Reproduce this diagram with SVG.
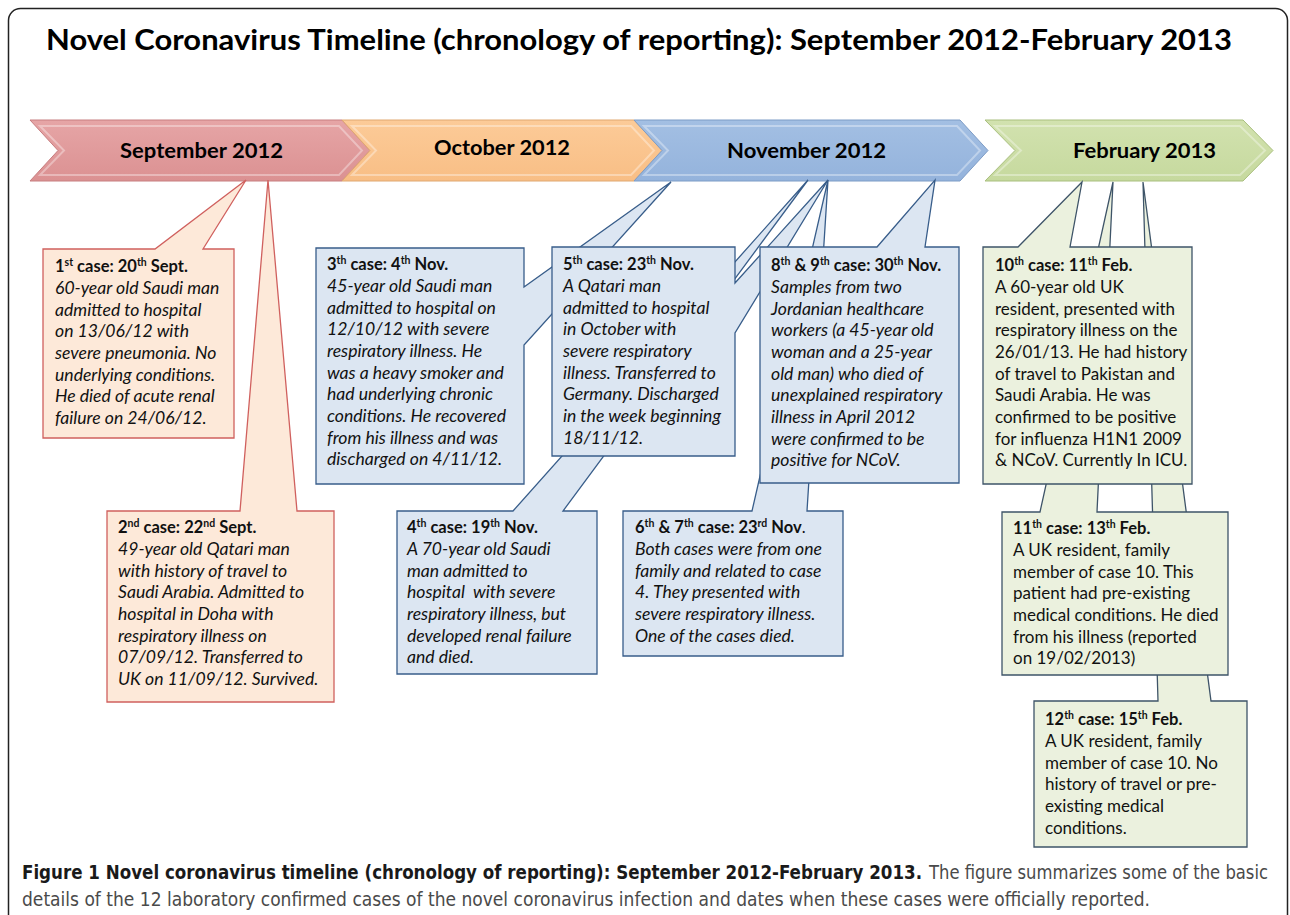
<svg xmlns="http://www.w3.org/2000/svg" width="1290" height="915" viewBox="0 0 1290 915">
<defs>
<linearGradient id="gS" x1="0" y1="0" x2="0" y2="1"><stop offset="0" stop-color="#E6A5A6"/><stop offset="1" stop-color="#DB9192"/></linearGradient>
<linearGradient id="gO" x1="0" y1="0" x2="0" y2="1"><stop offset="0" stop-color="#FCCB98"/><stop offset="1" stop-color="#F8BE85"/></linearGradient>
<linearGradient id="gN" x1="0" y1="0" x2="0" y2="1"><stop offset="0" stop-color="#A3BFE3"/><stop offset="1" stop-color="#94B3DC"/></linearGradient>
<linearGradient id="gF" x1="0" y1="0" x2="0" y2="1"><stop offset="0" stop-color="#D2E2AF"/><stop offset="1" stop-color="#C6D99E"/></linearGradient>
<style>
.frame{fill:none;stroke:#222;stroke-width:1.5}
.chev{stroke-width:1}
.bev{fill:none;stroke:#FFFFFF;stroke-opacity:0.35;stroke-width:2}
.ml{font-family:Lato,"Open Sans",sans-serif;font-weight:bold;font-size:21px;fill:#000}
.box-r{fill:#FDE9D9;stroke:#D0605E;stroke-width:1.3}
.box-b{fill:#DCE6F2;stroke:#385D8A;stroke-width:1.3}
.box-g{fill:#EBF1DE;stroke:#3E5468;stroke-width:1.3}
.t{font-family:Lato,"Open Sans",sans-serif;font-size:17px;fill:#111}
.b{font-weight:bold;font-size:16.5px}
.i{font-style:italic;font-size:17.6px}
.sup{font-size:10.5px}
.title{font-family:Lato,"Open Sans",sans-serif;font-weight:bold;font-size:29px;fill:#000}
.cap{font-family:"Liberation Sans Narrow","DejaVu Sans Condensed","Liberation Sans",sans-serif;font-size:19px}
</style>
</defs>
<rect class="frame" x="8.5" y="8.5" width="1279" height="980" rx="12"/>
<text class="title" x="46" y="50" textLength="1186" lengthAdjust="spacingAndGlyphs">Novel Coronavirus Timeline (chronology of reporting): September 2012-February 2013</text>

<g id="timeline">
<g id="month-sep">
<path class="chev" d="M30,120 L342,120 L370,150.5 L342,181 L30,181 L58,150.5 Z" fill="url(#gS)" stroke="#C77E80"/>
<path class="bev" d="M40,126 L339,126 L362,150.5 L339,175 L40,175 L64,150.5 Z"/>
<text class="ml" x="120" y="158" textLength="163" lengthAdjust="spacingAndGlyphs">September 2012</text>
</g>
<g id="month-oct">
<path class="chev" d="M342,120 L634,120 L662,150.5 L634,181 L342,181 L370,150.5 Z" fill="url(#gO)" stroke="#E0A870"/>
<path class="bev" d="M352,126 L631,126 L654,150.5 L631,175 L352,175 L376,150.5 Z"/>
<text class="ml" x="434" y="155" textLength="136" lengthAdjust="spacingAndGlyphs">October 2012</text>
</g>
<g id="month-nov">
<path class="chev" d="M634,120 L960,120 L988,150.5 L960,181 L634,181 L662,150.5 Z" fill="url(#gN)" stroke="#7D9CC6"/>
<path class="bev" d="M644,126 L957,126 L980,150.5 L957,175 L644,175 L668,150.5 Z"/>
<text class="ml" x="727" y="158" textLength="159" lengthAdjust="spacingAndGlyphs">November 2012</text>
</g>
<g id="month-feb">
<path class="chev" d="M985,120 L1243,120 L1273,150.5 L1243,181 L985,181 L1015,150.5 Z" fill="url(#gF)" stroke="#A9BF7E"/>
<path class="bev" d="M995,126 L1240,126 L1265,150.5 L1240,175 L995,175 L1021,150.5 Z"/>
<text class="ml" x="1073" y="158" textLength="143" lengthAdjust="spacingAndGlyphs">February 2013</text>
</g>
</g>

<g id="connectors"></g>

<g id="case1">
<path class="box-r" d="M43,249 L155,249 L246,180 L203,249 L234,249 L234,438 L43,438 Z"/>
<text class="t b" x="55" y="272">1<tspan class="sup" dy="-6">st</tspan><tspan dy="6"> case: 20</tspan><tspan class="sup" dy="-6">th</tspan><tspan dy="6"> Sept.</tspan></text>
<text class="t i"><tspan x="55" y="294">60-year old Saudi man</tspan><tspan x="55" y="315.5">admitted to hospital</tspan><tspan x="55" y="337">on 13/06/12 with</tspan><tspan x="55" y="359">severe pneumonia. No</tspan><tspan x="55" y="380.5">underlying conditions.</tspan><tspan x="55" y="402">He died of acute renal</tspan><tspan x="55" y="424">failure on 24/06/12.</tspan></text>
</g>

<g id="case2">
<path class="box-r" d="M107,511 L240,511 L268,180 L297,511 L334,511 L334,702 L107,702 Z"/>
<text class="t b" x="118" y="533">2<tspan class="sup" dy="-6">nd</tspan><tspan dy="6"> case: 22</tspan><tspan class="sup" dy="-6">nd</tspan><tspan dy="6"> Sept.</tspan></text>
<text class="t i"><tspan x="118" y="555">49-year old Qatari man</tspan><tspan x="118" y="576.5">with history of travel to</tspan><tspan x="118" y="598">Saudi Arabia. Admitted to</tspan><tspan x="118" y="620">hospital in Doha with</tspan><tspan x="118" y="641.5">respiratory illness on</tspan><tspan x="118" y="663">07/09/12. Transferred to</tspan><tspan x="118" y="685">UK on 11/09/12. Survived.</tspan></text>
</g>

<g id="case3">
<path class="box-b" d="M316,248 L524,248 L524,287 L671,182 L524,345 L524,484 L316,484 Z"/>
<text class="t b" x="327" y="270">3<tspan class="sup" dy="-6">th</tspan><tspan dy="6"> case: 4</tspan><tspan class="sup" dy="-6">th</tspan><tspan dy="6"> Nov.</tspan></text>
<text class="t i"><tspan x="327" y="292">45-year old Saudi man</tspan><tspan x="327" y="313.5">admitted to hospital on</tspan><tspan x="327" y="335">12/10/12 with severe</tspan><tspan x="327" y="357">respiratory illness. He</tspan><tspan x="327" y="378.5">was a heavy smoker and</tspan><tspan x="327" y="400">had underlying chronic</tspan><tspan x="327" y="422">conditions. He recovered</tspan><tspan x="327" y="443.5">from his illness and was</tspan><tspan x="327" y="465">discharged on 4/11/12.</tspan></text>
</g>

<g id="case4">
<path class="box-b" d="M397,511 L513,511 L808,180 L563,511 L597,511 L597,674 L397,674 Z"/>
<text class="t b" x="407" y="533">4<tspan class="sup" dy="-6">th</tspan><tspan dy="6"> case: 19</tspan><tspan class="sup" dy="-6">th</tspan><tspan dy="6"> Nov.</tspan></text>
<text class="t i"><tspan x="407" y="555">A 70-year old Saudi</tspan><tspan x="407" y="576.5">man admitted to</tspan><tspan x="407" y="598" xml:space="preserve">hospital  with severe</tspan><tspan x="407" y="620">respiratory illness, but</tspan><tspan x="407" y="641.5">developed renal failure</tspan><tspan x="407" y="663">and died.</tspan></text>
</g>

<g id="case5">
<path class="box-b" d="M552,247 L735,247 L735,283 L828,180 L735,333 L735,456 L552,456 Z"/>
<text class="t b" x="563" y="270">5<tspan class="sup" dy="-6">th</tspan><tspan dy="6"> case: 23</tspan><tspan class="sup" dy="-6">th</tspan><tspan dy="6"> Nov.</tspan></text>
<text class="t i"><tspan x="563" y="292">A Qatari man</tspan><tspan x="563" y="313.5">admitted to hospital</tspan><tspan x="563" y="335">in October with</tspan><tspan x="563" y="357">severe respiratory</tspan><tspan x="563" y="378.5">illness. Transferred to</tspan><tspan x="563" y="400">Germany. Discharged</tspan><tspan x="563" y="422">in the week beginning</tspan><tspan x="563" y="443.5">18/11/12.</tspan></text>
</g>

<g id="case6-7">
<path class="box-b" d="M623,511 L752,511 L828,180 L807,511 L843,511 L843,656 L623,656 Z"/>
<text class="t b" x="635" y="533">6<tspan class="sup" dy="-6">th</tspan><tspan dy="6"> &amp; 7</tspan><tspan class="sup" dy="-6">th</tspan><tspan dy="6"> case: 23</tspan><tspan class="sup" dy="-6">rd</tspan><tspan dy="6"> Nov</tspan><tspan font-weight="normal">.</tspan></text>
<text class="t i"><tspan x="635" y="555">Both cases were from one</tspan><tspan x="635" y="576.5">family and related to case</tspan><tspan x="635" y="598">4. They presented with</tspan><tspan x="635" y="620">severe respiratory illness.</tspan><tspan x="635" y="641.5">One of the cases died.</tspan></text>
</g>

<g id="case8-9">
<path class="box-b" d="M760,247 L877,247 L935,180 L925,247 L959,247 L959,483 L760,483 Z"/>
<text class="t b" x="771" y="271">8<tspan class="sup" dy="-6">th</tspan><tspan dy="6"> &amp; 9</tspan><tspan class="sup" dy="-6">th</tspan><tspan dy="6"> case: 30</tspan><tspan class="sup" dy="-6">th</tspan><tspan dy="6"> Nov.</tspan></text>
<text class="t i"><tspan x="771" y="293">Samples from two</tspan><tspan x="771" y="314.5">Jordanian healthcare</tspan><tspan x="771" y="336">workers (a 45-year old</tspan><tspan x="771" y="358">woman and a 25-year</tspan><tspan x="771" y="379.5">old man) who died of</tspan><tspan x="771" y="401">unexplained respiratory</tspan><tspan x="771" y="423">illness in April 2012</tspan><tspan x="771" y="444.5">were confirmed to be</tspan><tspan x="771" y="466">positive for NCoV.</tspan></text>
</g>

<g id="case12">
<path class="box-g" d="M1034,701 L1158,701 L1143,182 L1211,701 L1247,701 L1247,847 L1034,847 Z"/>
<text class="t b" x="1045" y="725">12<tspan class="sup" dy="-6">th</tspan><tspan dy="6"> case: 15</tspan><tspan class="sup" dy="-6">th</tspan><tspan dy="6"> Feb.</tspan></text>
<text class="t"><tspan x="1045" y="747">A UK resident, family</tspan><tspan x="1045" y="768.5">member of case 10. No</tspan><tspan x="1045" y="790">history of travel or pre-</tspan><tspan x="1045" y="812">existing medical</tspan><tspan x="1045" y="833.5">conditions.</tspan></text>
</g>

<g id="case11">
<path class="box-g" d="M1002,512 L1040,512 L1113,182 L1097,512 L1228,512 L1228,675 L1002,675 Z"/>
<text class="t b" x="1013" y="534">11<tspan class="sup" dy="-6">th</tspan><tspan dy="6"> case: 13</tspan><tspan class="sup" dy="-6">th</tspan><tspan dy="6"> Feb.</tspan></text>
<text class="t"><tspan x="1013" y="556">A UK resident, family</tspan><tspan x="1013" y="577.5">member of case 10. This</tspan><tspan x="1013" y="599">patient had pre-existing</tspan><tspan x="1013" y="621">medical conditions. He died</tspan><tspan x="1013" y="642.5">from his illness (reported</tspan><tspan x="1013" y="664">on 19/02/2013)</tspan></text>
</g>

<g id="case10">
<path class="box-g" d="M983,247 L1018,247 L1082,182 L1070,247 L1192,247 L1192,484 L983,484 Z"/>
<text class="t b" x="995" y="271">10<tspan class="sup" dy="-6">th</tspan><tspan dy="6"> case: 11</tspan><tspan class="sup" dy="-6">th</tspan><tspan dy="6"> Feb.</tspan></text>
<text class="t"><tspan x="995" y="293">A 60-year old UK</tspan><tspan x="995" y="314.5">resident, presented with</tspan><tspan x="995" y="336">respiratory illness on the</tspan><tspan x="995" y="358">26/01/13. He had history</tspan><tspan x="995" y="379.5">of travel to Pakistan and</tspan><tspan x="995" y="401">Saudi Arabia. He was</tspan><tspan x="995" y="423">confirmed to be positive</tspan><tspan x="995" y="444.5">for influenza H1N1 2009</tspan><tspan x="995" y="466">&amp; NCoV. Currently In ICU.</tspan></text>
</g>

<g id="caption">
<text class="cap" x="22" y="879" font-weight="bold" fill="#1A1A1A" textLength="900" lengthAdjust="spacingAndGlyphs">Figure 1 Novel coronavirus timeline (chronology of reporting): September 2012-February 2013.</text>
<text class="cap" x="929" y="879" fill="#4A4A4A" textLength="339" lengthAdjust="spacingAndGlyphs">The figure summarizes some of the basic</text>
<text class="cap" x="22" y="906" fill="#4A4A4A" textLength="1128" lengthAdjust="spacingAndGlyphs">details of the 12 laboratory confirmed cases of the novel coronavirus infection and dates when these cases were officially reported.</text>
</g>
</svg>
